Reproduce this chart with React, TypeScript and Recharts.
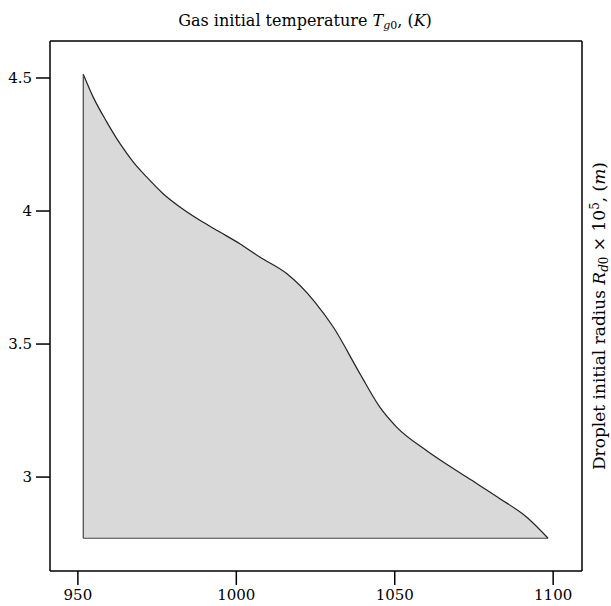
import React from "react"
import { Area, ComposedChart, ReferenceLine, XAxis, YAxis } from "recharts"

// gas initial temperature (K) along the boundary curve
const temperatures = [951.7, 954.8, 959.1, 963.3, 967.5, 971.7, 976.9, 982.2, 988.5, 994.8, 1001.1, 1007.4, 1015.9, 1024.8, 1030.6, 1039.0, 1045.3, 1050.6, 1060.0, 1072.7, 1083.2, 1091.6, 1098.4]
// droplet initial radius x 1e5 (m)
const radii = [4.514, 4.429, 4.335, 4.253, 4.184, 4.128, 4.065, 4.015, 3.965, 3.921, 3.877, 3.827, 3.765, 3.658, 3.564, 3.389, 3.263, 3.188, 3.1, 3.0, 2.919, 2.85, 2.77]
const baseRadius = 2.77

const xTicks = [950, 1000, 1050, 1100]
const yTicks = [3, 3.5, 4, 4.5]
const xDomain = [941.2, 1109.1]
const yDomain = [2.647, 4.639]

const data = temperatures.map((t, i) => ({ t, r: radii[i] }))

const font = "'DejaVu Serif', serif"
const tickStyle = { fontSize: 15, fill: "#000", fontFamily: font }

function TitleLabel(props: any) {
  const { viewBox } = props
  const cx = viewBox.x + viewBox.width / 2
  return (
    <text x={cx - 11} y={26} textAnchor="middle" fontSize={16} fontFamily={font} fill="#000">
      Gas initial temperature <tspan fontStyle="italic">T</tspan>
      <tspan fontSize={11} dy={3} fontStyle="italic">g</tspan>
      <tspan fontSize={11}>0</tspan>
      <tspan dy={-3}>, (</tspan>
      <tspan fontStyle="italic">K</tspan>
      <tspan>)</tspan>
    </text>
  )
}

function SideLabel(props: any) {
  const { viewBox } = props
  const x = viewBox.x + 23
  const y = viewBox.y + viewBox.height / 2 + 10
  return (
    <text x={x} y={y} transform={`rotate(-90 ${x} ${y})`} textAnchor="middle" fontSize={17} fontFamily={font} fill="#000">
      Droplet initial radius <tspan fontStyle="italic">R</tspan>
      <tspan fontSize={12} dy={3} fontStyle="italic">d</tspan>
      <tspan fontSize={12}>0</tspan>
      <tspan dy={-3}> × 10</tspan>
      <tspan fontSize={12} dy={-6}>5</tspan>
      <tspan dy={6}>, (</tspan>
      <tspan fontStyle="italic">m</tspan>
      <tspan>)</tspan>
    </text>
  )
}

export default function App() {
  return (
    <div style={{ position: "absolute", left: 0, top: 0, background: "#fff" }}>
      <ComposedChart width={611} height={606} data={data} margin={{ top: 0, right: 0, bottom: 0, left: 0 }}>
        <XAxis
          xAxisId="bottom"
          dataKey="t"
          type="number"
          domain={xDomain}
          ticks={xTicks}
          allowDataOverflow
          height={35}
          tickSize={14}
          tickMargin={4}
          tick={tickStyle}
          stroke="#000"
          strokeWidth={1.5}
        />
        <XAxis
          xAxisId="top"
          orientation="top"
          dataKey="t"
          type="number"
          domain={xDomain}
          allowDataOverflow
          height={41}
          tick={false}
          tickLine={false}
          stroke="#000"
          strokeWidth={1.5}
          label={<TitleLabel />}
        />
        <YAxis
          yAxisId="left"
          type="number"
          domain={yDomain}
          ticks={yTicks}
          allowDataOverflow
          width={50}
          tickSize={14}
          tickMargin={4}
          tick={tickStyle}
          stroke="#000"
          strokeWidth={1.5}
        />
        <YAxis
          yAxisId="right"
          orientation="right"
          type="number"
          domain={yDomain}
          allowDataOverflow
          width={29}
          tick={false}
          tickLine={false}
          stroke="#000"
          strokeWidth={1.5}
          label={<SideLabel />}
        />
        <Area
          xAxisId="bottom"
          yAxisId="left"
          dataKey="r"
          type="monotone"
          baseValue={baseRadius}
          fill="#d9d9d9"
          fillOpacity={1}
          stroke="#222"
          strokeWidth={1.2}
          dot={false}
          activeDot={false}
          isAnimationActive={false}
        />
        <ReferenceLine
          xAxisId="bottom"
          yAxisId="left"
          segment={[{ x: temperatures[0], y: baseRadius }, { x: temperatures[0], y: radii[0] }]}
          stroke="#444"
          strokeWidth={1.2}
        />
        <ReferenceLine
          xAxisId="bottom"
          yAxisId="left"
          segment={[{ x: temperatures[0], y: baseRadius }, { x: temperatures[temperatures.length - 1], y: baseRadius }]}
          stroke="#444"
          strokeWidth={1.2}
        />
      </ComposedChart>
    </div>
  )
}
